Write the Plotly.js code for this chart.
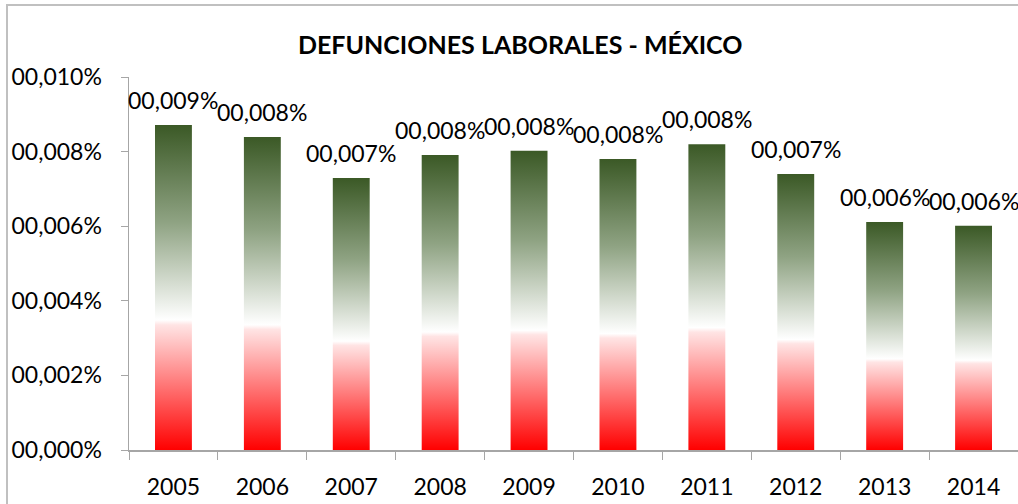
<!DOCTYPE html>
<html>
<head>
<meta charset="utf-8">
<script src="https://cdn.plot.ly/plotly-3.0.1.min.js"></script>
<style>
  html, body { margin: 0; padding: 0; background: #fff; }
  #wrap { position: relative; width: 1018px; height: 504px; overflow: hidden; }
  #frame { position: absolute; left: 6px; top: 4px; width: 1100px; height: 600px;
           border-left: 2px solid #c0c0c0; border-top: 2px solid #c0c0c0; pointer-events: none; }
</style>
</head>
<body>
<div id="wrap">
  <div id="chart"></div>
  <div id="frame"></div>
</div>
<script>
// años y tasa de defunciones (en %)
var years = ["2005", "2006", "2007", "2008", "2009", "2010", "2011", "2012", "2013", "2014"];
var rates = [0.00871, 0.00839, 0.00729, 0.00791, 0.00802, 0.00780, 0.00820, 0.00740, 0.00611, 0.00601];
var rateLabels = ["00,009%", "00,008%", "00,007%", "00,008%", "00,008%", "00,008%", "00,008%", "00,007%", "00,006%", "00,006%"];
var yTicks = [0, 0.002, 0.004, 0.006, 0.008, 0.010];
var yTickText = ["00,000%", "00,002%", "00,004%", "00,006%", "00,008%", "00,010%"];

var font = "Lato, 'Open Sans', sans-serif";

var trace = {
  x: years,
  y: rates,
  type: "bar",
  marker: {color: "#3b5926"},
  hoverinfo: "none"
};

// etiquetas de datos (x por índice de categoría)
var notes = years.map(function (yr, i) {
  return {
    x: i, y: rates[i], text: rateLabels[i],
    showarrow: false, yanchor: "middle", yshift: 25,
    font: {family: font, size: 23, color: "#000"}
  };
});

var layout = {
  width: 1018,
  height: 504,
  margin: {l: 129, r: 0, t: 77, b: 54},
  paper_bgcolor: "#fff",
  plot_bgcolor: "#fff",
  showlegend: false,
  bargap: 0.585,
  title: {
    text: "<b>DEFUNCIONES LABORALES - MÉXICO</b>",
    font: {family: font, size: 25, color: "#000"},
    x: 0.511, xref: "container", xanchor: "center",
    y: 0.911, yref: "container", yanchor: "middle"
  },
  xaxis: {
    type: "category",
    range: [-0.5, 9.5],
    showline: true, linecolor: "#a6a6a6", linewidth: 1.5,
    ticks: "outside", tickson: "boundaries", ticklen: 8, tickcolor: "#a6a6a6",
    tickfont: {family: font, size: 23, color: "#000"},
    ticklabelstandoff: 16,
    showgrid: false, zeroline: false
  },
  yaxis: {
    range: [0, 0.010],
    showline: true, linecolor: "#a6a6a6", linewidth: 1.5,
    ticks: "outside", ticklen: 7, tickcolor: "#a6a6a6",
    tickvals: yTicks, ticktext: yTickText,
    tickfont: {family: font, size: 23, color: "#000"},
    ticklabelstandoff: 14,
    showgrid: false, zeroline: false
  },
  annotations: notes
};

Plotly.newPlot("chart", [trace], layout, {staticPlot: true}).then(function (gd) {
  // degradado verde-blanco-rojo por barra
  var svgNS = "http://www.w3.org/2000/svg";
  var svg = gd.querySelector(".main-svg");
  var defs = svg.querySelector("defs") || svg.insertBefore(document.createElementNS(svgNS, "defs"), svg.firstChild);
  var grad = document.createElementNS(svgNS, "linearGradient");
  grad.setAttribute("id", "flagGrad");
  grad.setAttribute("x1", "0"); grad.setAttribute("y1", "0");
  grad.setAttribute("x2", "0"); grad.setAttribute("y2", "1");
  [["0", "#3b5926"], ["0.3", "#8fa383"], ["0.6", "#ffffff"], ["0.615", "#ffe4e4"], ["1", "#ff0000"]].forEach(function (s) {
    var stop = document.createElementNS(svgNS, "stop");
    stop.setAttribute("offset", s[0]);
    stop.setAttribute("stop-color", s[1]);
    grad.appendChild(stop);
  });
  defs.appendChild(grad);
  gd.querySelectorAll(".barlayer .point path").forEach(function (p) {
    p.style.fill = "url(#flagGrad)";
  });
});
</script>
</body>
</html>
